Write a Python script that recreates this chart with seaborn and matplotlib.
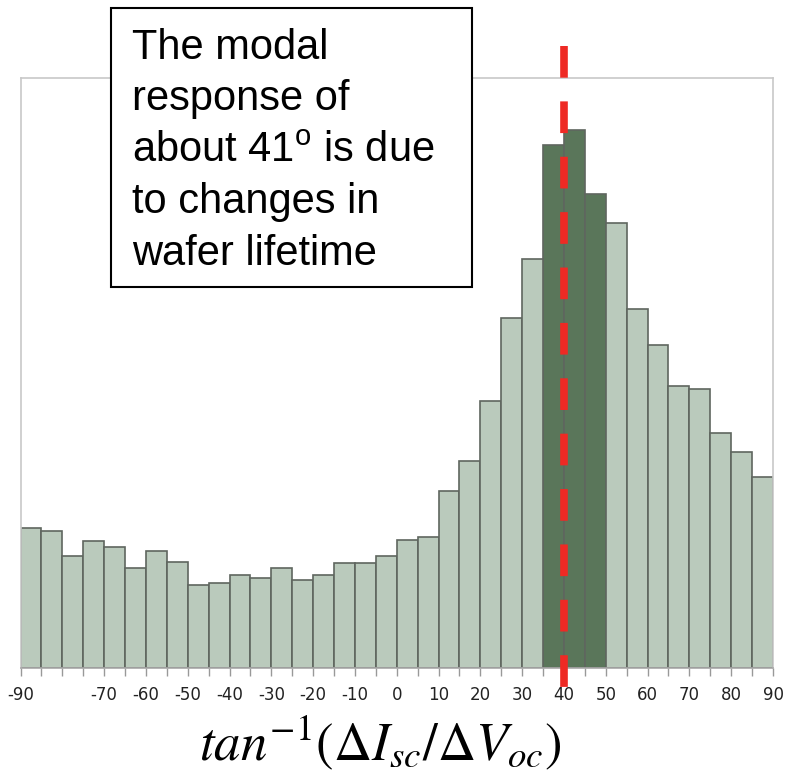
import numpy as np
import pandas as pd
import matplotlib
matplotlib.use("Agg")
import matplotlib.pyplot as plt
import seaborn as sns

# ---- data ----
bin_left = list(range(-90, 90, 5))
counts = [139.7, 137, 112.3, 127.3, 120.7, 100, 116.7, 105.7, 83.3, 84.7,
          93, 90.3, 100, 87.7, 93, 105.3, 105.3, 112.5, 128, 131,
          177, 207, 267, 350, 409, 523, 538, 474, 445, 359,
          323, 282, 279, 235, 216, 191]
modal_bins = [35, 40, 45]
tick_vals = list(range(-90, 91, 5))
tick_labels = [str(v) if (v % 10 == 0 and v != -80) else "" for v in tick_vals]
annotation = "The modal\nresponse of\nabout 41$^\\mathrm{o}$ is due\nto changes in\nwafer lifetime"
xlabel = r"$tan^{-1}(\Delta I_{sc}/\Delta V_{oc})$"
mode_line = 40

sns.set_style("white")
plt.rcParams['font.family'] = ['DejaVu Sans']
plt.rcParams['mathtext.fontset'] = 'custom'
plt.rcParams['mathtext.rm'] = 'Liberation Sans'
plt.rcParams['mathtext.it'] = 'Liberation Sans:italic'

df = pd.DataFrame({"angle": [b + 2.5 for b in bin_left], "count": counts,
                   "grp": ["mode" if b in modal_bins else "other" for b in bin_left]})

W, H = 785, 775
fig = plt.figure(figsize=(W / 100, H / 100), dpi=100)
ax = fig.add_axes([20.5 / W, (H - 668) / H, 752.5 / W, 590 / H])

sns.histplot(data=df, x="angle", weights="count", hue="grp",
             binwidth=5, binrange=(-90, 90), multiple="layer", element="bars",
             palette={"mode": "#5a765a", "other": "#bacabc"}, alpha=1,
             edgecolor="#5f665f", linewidth=1.2, legend=False, ax=ax)

ax.set_xlim(-90, 90)
ax.set_ylim(0, 590)
ax.set_yticks([])
ax.set_ylabel("")
ax.set_xticks(tick_vals)
ax.set_xticklabels(tick_labels, fontsize=12, color="#222222")
ax.tick_params(axis="x", length=6, width=1, color="#999999", pad=7, bottom=True)
for s in ["left", "top", "right"]:
    ax.spines[s].set_color("#c8c8c8")
    ax.spines[s].set_linewidth(1.2)
ax.spines["bottom"].set_color("#a8a8a8")
ax.spines["bottom"].set_linewidth(1.2)
ax.set_xlabel("")

# mathematical x label
fig.text(380 / W, 1 - 743 / H, xlabel, fontsize=38, ha="center", va="center",
         math_fontfamily="stix", color="black")

# red dashed mode line extending beyond axes
top = (668 - 46) / 590
bot = (668 - 690) / 590
ln, = ax.plot([mode_line, mode_line], [top, bot], transform=ax.get_xaxis_transform(),
              color="#ee2a24", linewidth=5.5, clip_on=False, zorder=5,
              linestyle=(0, (4.15, 3.1)), dash_capstyle="butt")

# annotation box
fig.patches.append(plt.Rectangle((111 / W, 1 - 287 / H), 361 / W, 279 / H,
                                 transform=fig.transFigure, facecolor="white",
                                 edgecolor="black", linewidth=1.5, zorder=10))
fig.text(132 / W, 1 - 28 / H, annotation, fontsize=30, ha="left", va="top",
         family="Liberation Sans", linespacing=1.37, color="black", zorder=11)

fig.savefig("out.png", dpi=100)
